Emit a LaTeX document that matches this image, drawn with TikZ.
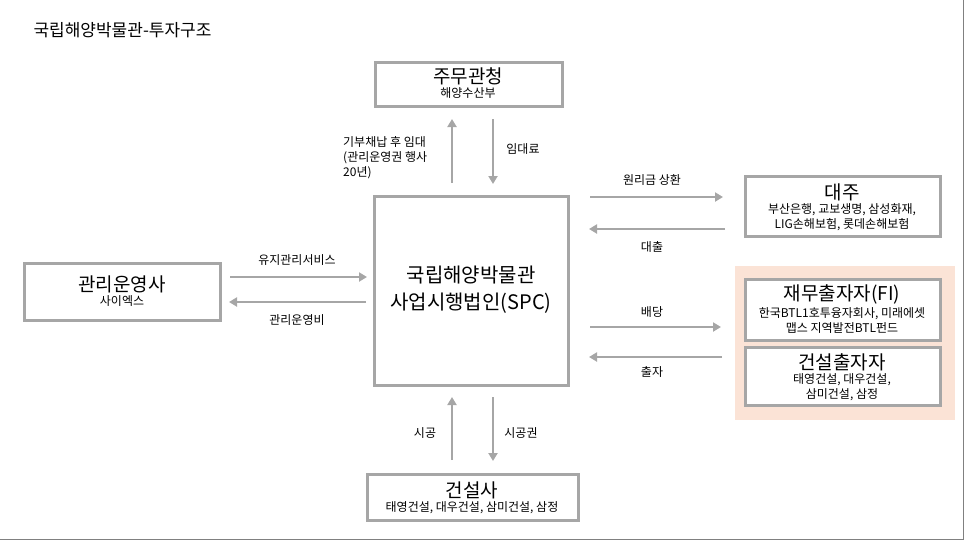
\documentclass[tikz,border=0pt]{standalone}
\usepackage{fontspec}
\setmainfont{Noto Sans CJK KR}
\usetikzlibrary{positioning, arrows.meta, calc}
\definecolor{boxgray}{HTML}{A6A6A6}
\definecolor{peach}{HTML}{FBE3D6}

\begin{document}
\begin{tikzpicture}[
    x=1pt, y=-1pt,
    % Global style settings
    box_style/.style={
        draw=boxgray, line width=3pt, fill=white
    },
    arrow_style/.style={
        draw=boxgray, line width=2.6pt,
        -{Triangle[length=8pt, width=9pt]}
    },
    title_style/.style={
        font=\fontsize{19}{22}\selectfont, inner sep=0pt
    },
    sub_style/.style={
        font=\fontsize{12}{15}\selectfont, align=center, inner sep=0pt
    },
    label_style/.style={
        font=\fontsize{12}{15}\selectfont, inner sep=1pt
    }
]
    \useasboundingbox (0,0) rectangle (966,542);
    \draw[gray, line width=1pt] (963,0) -- (963,539) -- (0,539);

    % Title
    \node[anchor=west, font=\fontsize{17}{20}\selectfont] (title) at (30,30) {국립해양박물관-투자구조};

    % 1. Boxes
    \fill[peach] (735,266) rectangle (955,420);
    \draw[box_style] (375,62) rectangle (562,106);
    \draw[box_style] (374,196) rectangle (568,385);
    \draw[box_style] (24,263) rectangle (220,320);
    \draw[box_style] (367,474) rectangle (578,520);
    \draw[box_style] (745,176) rectangle (940,236);
    \draw[box_style] (745,279) rectangle (940,340);
    \draw[box_style] (745,347) rectangle (940,405);

    % 2. Box texts
    \node[title_style] (authority) at (468,76) {주무관청};
    \node[sub_style, below=3pt of authority] (authority_sub) {해양수산부};
    \node[title_style, align=center, font=\fontsize{20}{27}\selectfont] (spc) at (471,290) {국립해양박물관\\사업시행법인(SPC)};
    \node[title_style] (operator) at (122,284) {관리운영사};
    \node[sub_style, below=3pt of operator] (operator_sub) {사이엑스};
    \node[title_style] (builder) at (472,490) {건설사};
    \node[sub_style, below=3pt of builder] (builder_sub) {태영건설, 대우건설, 삼미건설, 삼정};
    \node[title_style] (lender) at (842,192) {대주};
    \node[sub_style, below=3pt of lender] (lender_sub) {부산은행, 교보생명, 삼성화재,\\LIG손해보험, 롯데손해보험};
    \node[title_style] (fi) at (842,294) {재무출자자(FI)};
    \node[sub_style, below=3pt of fi] (fi_sub) {한국BTL1호투융자회사, 미래에셋\\맵스 지역발전BTL펀드};
    \node[title_style] (ci) at (842,362) {건설출자자};
    \node[sub_style, below=3pt of ci] (ci_sub) {태영건설, 대우건설,\\삼미건설, 삼정};

    % 3. Arrows with coordinates
    \coordinate (a1s) at (452,183); \coordinate (a1e) at (452,119);
    \coordinate (a2s) at (493,119); \coordinate (a2e) at (493,184);
    \coordinate (a3s) at (230,277); \coordinate (a3e) at (367,277);
    \coordinate (a4s) at (366,302); \coordinate (a4e) at (229,302);
    \coordinate (a5s) at (590,197); \coordinate (a5e) at (723,197);
    \coordinate (a6s) at (725,229); \coordinate (a6e) at (589,229);
    \coordinate (a7s) at (590,327); \coordinate (a7e) at (721,327);
    \coordinate (a8s) at (722,357); \coordinate (a8e) at (589,357);
    \coordinate (a9s) at (452,460); \coordinate (a9e) at (452,397);
    \coordinate (a10s) at (493,397); \coordinate (a10e) at (493,461);
    \foreach \a in {1,...,10}
        \draw[arrow_style] (a\a s) -- (a\a e);

    % 4. Arrow labels
    \node[label_style, align=left, anchor=west] (lbl_donate) at (342,158) {기부채납 후 임대\\(관리운영권 행사\\20년)};
    \node[label_style] (lbl_rent) at (523,149) {임대료};
    \node[label_style] (lbl_maint) at (297,260) {유지관리서비스};
    \node[label_style] (lbl_opfee) at (297,320) {관리운영비};
    \node[label_style] (lbl_repay) at (652,180) {원리금 상환};
    \node[label_style] (lbl_loan) at (652,247) {대출};
    \node[label_style] (lbl_div) at (652,312) {배당};
    \node[label_style] (lbl_invest) at (652,372) {출자};
    \node[label_style] (lbl_build) at (425,433) {시공};
    \node[label_style] (lbl_right) at (521,433) {시공권};
\end{tikzpicture}
\end{document}
